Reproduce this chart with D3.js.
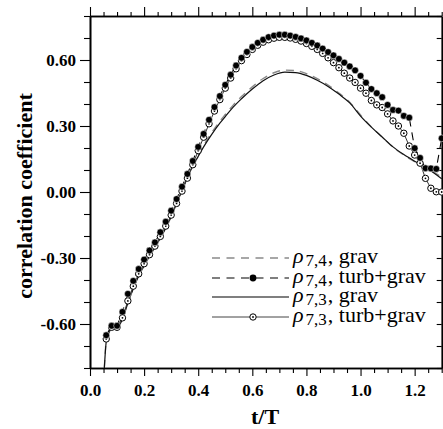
<!DOCTYPE html>
<html><head><meta charset="utf-8">
<script src="https://cdn.jsdelivr.net/npm/d3@7"></script>
<style>body{margin:0;background:#fff}svg{display:block}</style>
</head><body>
<svg id="c" width="443" height="429"></svg>
<script>
// ---- data ----
const tTurb = [0.06,0.08,0.10,0.12,0.14,0.16,0.18,0.20,0.22,0.24,0.26,0.28,0.30,0.32,0.34,0.36,0.38,0.40,0.42,0.44,0.46,0.48,0.50,0.52,0.54,0.56,0.58,0.60,0.62,0.64,0.66,0.68,0.70,0.72,0.74,0.76,0.78,0.80,0.82,0.84,0.86,0.88,0.90,0.92,0.94,0.96,0.98,1.00,1.02,1.04,1.06,1.08,1.10,1.12,1.14,1.16,1.18,1.20,1.22,1.24,1.26,1.28,1.30];
const rho74Turb = [-0.651,-0.608,-0.608,-0.545,-0.463,-0.404,-0.350,-0.307,-0.266,-0.229,-0.183,-0.135,-0.085,-0.032,0.024,0.082,0.141,0.205,0.264,0.328,0.386,0.436,0.487,0.533,0.575,0.610,0.637,0.659,0.678,0.692,0.704,0.711,0.715,0.715,0.711,0.705,0.698,0.689,0.678,0.666,0.652,0.636,0.621,0.605,0.588,0.571,0.553,0.528,0.497,0.468,0.449,0.431,0.396,0.373,0.370,0.346,0.338,0.199,0.155,0.108,0.107,0.105,0.244];
const rho73Turb = [-0.668,-0.615,-0.615,-0.572,-0.495,-0.428,-0.372,-0.326,-0.285,-0.246,-0.202,-0.155,-0.105,-0.052,0.004,0.063,0.124,0.188,0.249,0.310,0.368,0.420,0.472,0.518,0.560,0.597,0.625,0.648,0.667,0.681,0.692,0.699,0.703,0.703,0.700,0.694,0.686,0.675,0.662,0.648,0.630,0.610,0.588,0.565,0.540,0.518,0.498,0.472,0.449,0.416,0.396,0.384,0.355,0.323,0.300,0.267,0.209,0.168,0.131,0.062,0.017,0.001,0.000];
const tGrav = [0.053,0.06,0.07,0.08,0.10,0.12,0.14,0.16,0.18,0.20,0.22,0.24,0.26,0.28,0.30,0.32,0.34,0.36,0.38,0.40,0.42,0.45,0.48,0.50,0.53,0.56,0.60,0.64,0.68,0.72,0.76,0.80,0.84,0.88,0.92,0.96,1.00,1.04,1.08,1.12,1.16,1.20,1.24,1.30];
const rho73Grav = [-0.80,-0.68,-0.635,-0.62,-0.617,-0.578,-0.505,-0.44,-0.382,-0.336,-0.292,-0.252,-0.21,-0.165,-0.112,-0.053,0.008,0.065,0.118,0.162,0.205,0.262,0.313,0.343,0.387,0.424,0.468,0.506,0.532,0.545,0.543,0.530,0.508,0.480,0.445,0.405,0.345,0.295,0.250,0.205,0.170,0.140,0.112,0.060];
const rho74Grav = [-0.80,-0.675,-0.63,-0.615,-0.612,-0.572,-0.50,-0.435,-0.378,-0.332,-0.288,-0.248,-0.206,-0.16,-0.107,-0.048,0.012,0.07,0.124,0.168,0.212,0.27,0.322,0.352,0.396,0.434,0.478,0.516,0.542,0.554,0.552,0.538,0.515,0.486,0.45,0.408,0.350,0.296,0.250,0.204,0.168,0.138,0.112,0.068];
const xMajor = [0.0,0.2,0.4,0.6,0.8,1.0,1.2];
const xMinor = [0.05,0.1,0.15,0.25,0.3,0.35,0.45,0.5,0.55,0.65,0.7,0.75,0.85,0.9,0.95,1.05,1.1,1.15,1.25,1.3];
const yMajor = [-0.6,-0.3,0.0,0.3,0.6];
const yMinor = [-0.8,-0.7,-0.5,-0.4,-0.2,-0.1,0.1,0.2,0.4,0.5,0.7,0.8];
const legendSeries = [
  {sub:"7,4", name:"grav"},
  {sub:"7,4", name:"turb+grav"},
  {sub:"7,3", name:"grav"},
  {sub:"7,3", name:"turb+grav"}
];

// ---- drawing ----
const svg = d3.select("#c");
const FONT = "'Liberation Serif','Times New Roman',serif";
const x = d3.scaleLinear().domain([0,1.3]).range([90,441.7]);
const y = d3.scaleLinear().domain([-0.8,0.8]).range([368,16]);

svg.append("defs").append("clipPath").attr("id","clip")
  .append("rect").attr("x",90).attr("y",16).attr("width",352).attr("height",352);

function axis(gen, tr, vals, size, fmt){
  const g = svg.append("g").attr("transform",tr)
    .call(gen.tickValues(vals).tickSizeInner(size).tickSizeOuter(0).tickPadding(4).tickFormat(fmt||(()=>"")));
  g.select(".domain").attr("stroke","#000").attr("stroke-width",1.6);
  g.selectAll(".tick line").attr("stroke","#000").attr("stroke-width",1.1);
  g.selectAll("text").attr("font-family",FONT).attr("font-weight","bold").attr("font-size",17).attr("fill","#000");
  return g;
}
axis(d3.axisBottom(x),"translate(0,368)",xMinor,5);
axis(d3.axisBottom(x),"translate(0,368)",xMajor,8,d=>d.toFixed(1)).selectAll("text").attr("dy","0.95em");
axis(d3.axisTop(x),"translate(0,16)",xMinor,4);
axis(d3.axisTop(x),"translate(0,16)",xMajor,9);
axis(d3.axisLeft(y),"translate(90,0)",yMinor,6);
axis(d3.axisLeft(y),"translate(90,0)",yMajor,10,d=>d.toFixed(2));
axis(d3.axisRight(y),"translate(441.7,0)",yMinor.concat(yMajor),-5);

const plot = svg.append("g");
const gravLine = (vals)=>d3.line().x((d,i)=>x(tGrav[i])).y(d=>y(d)).curve(d3.curveMonotoneX)(vals);
const turbLine = (vals)=>d3.line().x((d,i)=>x(tTurb[i])).y(d=>y(d))(vals);

plot.append("path").attr("d",gravLine(rho74Grav)).attr("fill","none").attr("stroke","#8a8a8a").attr("stroke-width",1.4).attr("stroke-dasharray","8,6").attr("clip-path","url(#clip)");
plot.append("path").attr("d",gravLine(rho73Grav)).attr("fill","none").attr("stroke","#111").attr("stroke-width",1.2).attr("clip-path","url(#clip)");
plot.append("path").attr("d",turbLine(rho73Turb)).attr("fill","none").attr("stroke","#333").attr("stroke-width",1);
plot.append("path").attr("d",turbLine(rho74Turb)).attr("fill","none").attr("stroke","#000").attr("stroke-width",1.1).attr("stroke-dasharray","8,6");

const openG = plot.append("g");
openG.selectAll("circle.o").data(rho73Turb).join("circle").attr("class","o")
  .attr("cx",(d,i)=>x(tTurb[i])).attr("cy",d=>y(d)).attr("r",3.2)
  .attr("fill","#fff").attr("stroke","#000").attr("stroke-width",1);
openG.selectAll("circle.c").data(rho73Turb).join("circle").attr("class","c")
  .attr("cx",(d,i)=>x(tTurb[i])).attr("cy",d=>y(d)).attr("r",0.9).attr("fill","#000");
plot.append("g").selectAll("circle").data(rho74Turb).join("circle")
  .attr("cx",(d,i)=>x(tTurb[i])).attr("cy",d=>y(d)).attr("r",3.4)
  .attr("fill","#000").attr("stroke","#fff").attr("stroke-width",0.5);

// legend
const rowsY = [258,278,297,317];
const styles = [
  {stroke:"#8a8a8a",dash:"8,6.5",w:1.3,marker:null},
  {stroke:"#000",dash:"8,6.5",w:1.1,marker:"filled"},
  {stroke:"#000",dash:null,w:1.2,marker:null},
  {stroke:"#444",dash:null,w:1,marker:"open"}
];
const lg = svg.append("g");
legendSeries.forEach((s,i)=>{
  const yy = rowsY[i], st = styles[i];
  lg.append("line").attr("x1",212).attr("x2",289).attr("y1",yy).attr("y2",yy)
    .attr("stroke",st.stroke).attr("stroke-width",st.w).attr("stroke-dasharray",st.dash);
  if(st.marker==="filled") lg.append("circle").attr("cx",253).attr("cy",yy).attr("r",3.4).attr("fill","#000");
  if(st.marker==="open"){
    lg.append("circle").attr("cx",253).attr("cy",yy).attr("r",3.2).attr("fill","#fff").attr("stroke","#000");
    lg.append("circle").attr("cx",253).attr("cy",yy).attr("r",0.9).attr("fill","#000");
  }
  const rho = lg.append("text").attr("x",293).attr("y",yy+5).attr("font-family",FONT).attr("font-size",22)
    .attr("font-style","italic").text("ρ");
  const x1 = 293 + rho.node().getComputedTextLength() + 2;
  const sub = lg.append("text").attr("x",x1).attr("y",yy+8).attr("font-family",FONT).attr("font-size",17).text(s.sub);
  const x2 = x1 + sub.node().getComputedTextLength() + 1;
  lg.append("text").attr("x",x2).attr("y",yy+5).attr("font-family",FONT).attr("font-size",22).text(", "+s.name);
});

// titles
svg.append("text").attr("transform","translate(32,196) rotate(-90)").attr("text-anchor","middle")
  .attr("font-family",FONT).attr("font-weight","bold").attr("font-size",22).text("correlation coefficient");
svg.append("text").attr("x",265).attr("y",424).attr("text-anchor","middle")
  .attr("font-family",FONT).attr("font-weight","bold").attr("font-size",22).text("t/T");
</script>
</body></html>
